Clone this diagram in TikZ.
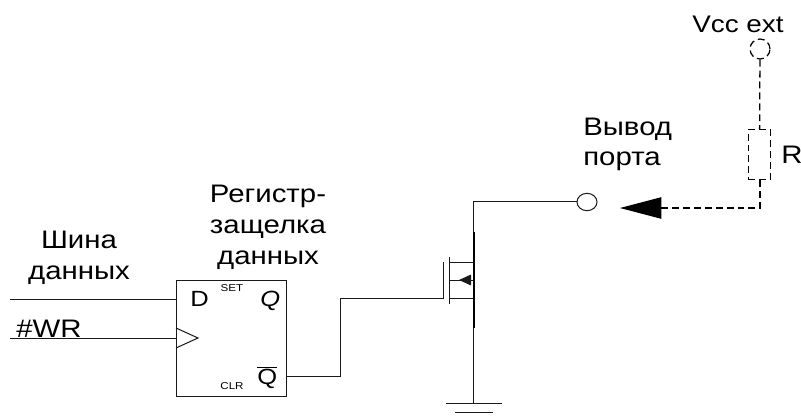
\documentclass[tikz,border=0pt]{standalone}
\usepackage{fontspec}
\setmainfont[FakeStretch=1.16]{Liberation Sans}
\usepackage{tikz}
\usetikzlibrary{arrows.meta}
\usetikzlibrary{shapes.geometric}
\tikzset{
	wire/.style={line width=0.75pt,black!90},
	dashwire/.style={line width=0.95pt,black,dash pattern=on 5.2pt off 3pt},
	lbl/.style={inner sep=0pt,font=\fontsize{19}{23.25}\selectfont,align=center},
	lblbase/.style={inner sep=0pt,font=\fontsize{19}{23.25}\selectfont,anchor=base west},
	pinbase/.style={inner sep=0pt,font=\fontsize{16.5}{20}\selectfont,anchor=base west},
	tiny/.style={inner sep=0pt,font=\fontsize{7.5}{9}\selectfont,anchor=base},
}
\begin{document}
\begin{tikzpicture}[x=0.75pt,y=-0.75pt]
	\useasboundingbox (0,0) rectangle (801,418);
	\node[draw,wire,minimum width=83pt,minimum height=87pt,inner sep=0pt] (latch) at (231.5,338) {};
	\node[lbl] (bus) at (79,258) {Шина\\данных};
	\node[lbl] (reglabel) at (268,227.5) {Регистр-\\защелка\\данных};
	\node[lblbase] (wrlabel) at (16,337) {\#WR};
	\node[pinbase] (dlabel) at (190,306) {D};
	\node[pinbase] (qlabel) at (260,306) {\textit{Q}};
	\node[pinbase] (qnlabel) at (257,384) {$\overline{\mbox{Q}}$};
	\node[tiny] (setlabel) at (232,291) {SET};
	\node[tiny] (clrlabel) at (232,389) {CLR};
	\node[lblbase] (portlabel1) at (583,135) {Вывод};
	\node[lblbase] (portlabel2) at (583,165) {порта};
	\node[lblbase] (rlabel) at (781,163) {R};
	\node[inner sep=0pt,font=\fontsize{18}{23}\selectfont] (vcclabel) at (738,24) {Vcc ext};
	\node[draw,wire,ellipse,minimum width=15pt,minimum height=13pt,inner sep=0pt] (port) at (587,202) {};
	\node[draw,dashwire,circle,minimum size=15pt,inner sep=0pt] (vcc) at (760,49) {};
	\node[draw,dashwire,minimum width=17pt,minimum height=37pt,inner sep=0pt] (rload) at (759.5,154.5) {};
	\coordinate (busin) at (10,299);
	\coordinate (wrin) at (10,338);
	\coordinate (qout) at (340,376);
	\coordinate (gatein) at (340,298);
	\coordinate (gate) at (443,298);
	\coordinate (gatetop) at (443,262);
	\coordinate (chtop) at (449,257);
	\coordinate (chbot) at (449,304);
	\coordinate (drain) at (449,262);
	\coordinate (source) at (449,298);
	\coordinate (body) at (449,280);
	\coordinate (railtop) at (473.7,201);
	\coordinate (rail1) at (473.7,232);
	\coordinate (rail2) at (473.7,328);
	\coordinate (gnd) at (473.7,403);
	\coordinate (arrowtip) at (620,208);
	\coordinate (rcorner) at (760,208);
	\draw[wire] (busin) -- (busin-|latch.west);
	\draw[wire] (wrin) -- (wrin-|latch.west);
	\draw[wire] (176,328) -- (198,338) -- (176,348);
	\draw[wire] (latch.east|-qout) -- (qout) -- (gatein) -- (gate) -- (gatetop);
	\draw[wire] (chtop) -- (chbot);
	\draw[wire] (drain) -- (drain-|rail1);
	\draw[wire] (source) -- (source-|rail1);
	\draw[wire] (body) -- (body-|rail1);
	\draw[-{Triangle[length=9pt,width=8pt]},wire] (body-|rail1) -- (459,280);
	\draw[wire] (port.west) -- (port.west|-railtop) -- (railtop) -- (rail1);
	\draw[line width=1.3pt] (rail1) -- (rail2);
	\draw[wire] (rail2) -- (gnd);
	\draw[wire] (446,403) -- (502,403);
	\draw[wire] (455,412) -- (493,412);
	\draw[dashwire] (vcc) -- (rload);
	\draw[dashwire,-{Triangle[length=31pt,width=16pt,fill=black]}] (rload.south-|rcorner) -- (rcorner) -- (arrowtip);
\end{tikzpicture}
\end{document}
